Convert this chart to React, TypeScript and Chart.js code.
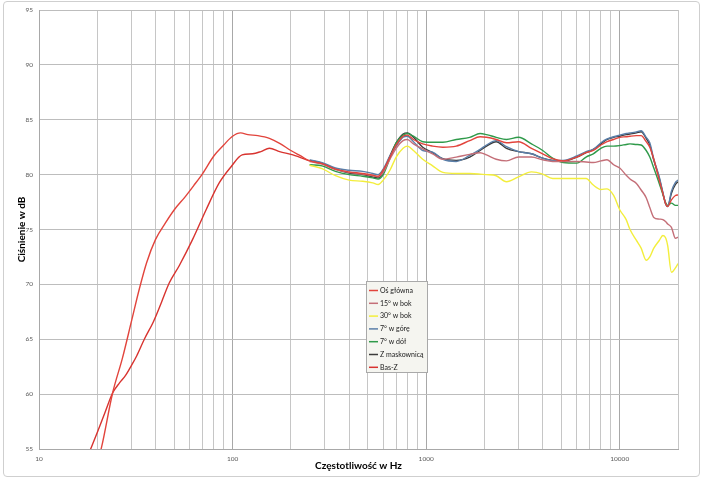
import React, { useEffect, useRef } from 'react';
import { Chart, registerables } from 'chart.js';

Chart.register(...registerables);

const FONT = 'Lato, "Open Sans", "DejaVu Sans", sans-serif';

// Low-frequency part of the main-axis curve (Hz / dB)
const FREQ_OS_LOW = [20, 21, 24, 27, 30, 33, 36, 40, 45, 50, 57, 63, 70, 80, 90, 100, 110, 120, 135, 155, 175, 200, 225];
const OS_GLOWNA_LOW = [53.8, 55.1, 60.1, 63.3, 66.6, 69.6, 72.0, 74.1, 75.6, 76.8, 78.0, 79.0, 80.1, 81.7, 82.7, 83.5, 83.8, 83.65, 83.55, 83.3, 82.85, 82.2, 81.7];

// Bass measurement (Hz / dB)
const FREQ_BAS = [18, 20, 22, 24, 26, 28, 30, 32, 35, 39, 43, 47, 53, 62, 73, 85, 98, 112, 127, 140, 155, 175, 205, 250];
const BAS_Z = [54.5, 56.5, 58.4, 60.1, 61.0, 61.7, 62.6, 63.5, 65.0, 66.6, 68.4, 70.1, 71.7, 74.05, 76.8, 79.2, 80.7, 81.8, 81.9, 82.1, 82.4, 82.1, 81.8, 81.25];

// Common frequency grid for the 250 Hz – 20 kHz measurements
const FREQ_MID = [250, 290, 340, 400, 470, 530, 565, 600, 650, 700, 760, 800, 860, 960, 1080, 1220, 1430, 1680, 1900, 2050, 2300, 2600, 3000, 3500, 4000, 4500, 5100, 6000, 6700, 7300, 8000, 8600, 9300, 10000, 10800, 11300, 12200, 12900, 13700, 14300, 15000, 16000, 16700, 17300, 17700, 18500, 19400, 20000];

const OS_GLOWNA_MID = [81.25, 81.0, 80.5, 80.25, 80.1, 79.95, 79.85, 80.4, 81.6, 82.7, 83.5, 83.6, 83.2, 82.8, 82.6, 82.5, 82.6, 83.1, 83.45, 83.4, 83.2, 82.9, 83.0, 82.4, 81.9, 81.45, 81.25, 81.6, 82.0, 82.2, 82.7, 83.0, 83.2, 83.4, 83.45, 83.5, 83.55, 83.55, 83.0, 82.5, 81.4, 79.5, 78.3, 77.3, 77.1, 77.7, 78.1, 78.15];
const BOK_15 = [81.2, 80.95, 80.45, 80.2, 80.05, 79.9, 79.8, 80.2, 81.4, 82.4, 83.1, 83.2, 82.8, 82.35, 81.9, 81.4, 81.6, 81.85, 82.0, 81.8, 81.4, 81.25, 81.6, 81.6, 81.35, 81.2, 81.2, 81.2, 81.15, 81.1, 81.25, 81.35, 80.9, 80.6, 79.95, 79.6, 79.2, 78.6, 77.9, 77.0, 76.1, 75.95, 75.9, 75.7, 75.5, 75.2, 74.2, 74.3];
const BOK_30 = [80.85, 80.55, 79.9, 79.5, 79.4, 79.25, 79.1, 79.5, 80.4, 81.6, 82.4, 82.6, 82.2, 81.4, 80.8, 80.2, 80.1, 80.1, 80.05, 80.0, 79.9, 79.35, 79.8, 80.25, 80.05, 79.65, 79.65, 79.65, 79.65, 79.05, 78.65, 78.7, 78.1, 76.8, 75.9, 75.0, 74.0, 73.3, 72.2, 72.5, 73.3, 74.0, 74.45, 74.2, 73.5, 71.1, 71.5, 71.9];
const GORA_7 = [81.35, 81.1, 80.6, 80.4, 80.3, 80.1, 80.0, 80.5, 81.7, 82.6, 83.4, 83.5, 83.0, 82.2, 82.05, 81.4, 81.2, 81.75, 82.3, 82.7, 83.1, 82.55, 82.1, 81.9, 81.5, 81.3, 81.3, 81.7, 82.1, 82.3, 82.9, 83.25, 83.45, 83.6, 83.75, 83.8, 83.9, 84.0, 83.4, 82.9, 81.4, 79.8, 78.4, 77.3, 77.1, 78.5, 79.3, 79.5];
const DOL_7 = [80.9, 80.8, 80.3, 80.0, 79.85, 79.7, 79.6, 80.0, 81.5, 82.9, 83.6, 83.75, 83.5, 83.0, 82.95, 82.95, 83.2, 83.4, 83.75, 83.65, 83.4, 83.2, 83.4, 82.8, 82.2, 81.5, 81.1, 81.05, 81.6, 81.9, 82.4, 82.6, 82.6, 82.65, 82.75, 82.8, 82.75, 82.7, 82.2, 81.6, 80.6, 79.2, 78.2, 77.4, 77.2, 77.4, 77.2, 77.2];
const MASKOWNICA = [81.3, 81.05, 80.5, 80.15, 80.0, 79.8, 79.7, 80.2, 81.7, 82.9, 83.7, 83.8, 83.4, 82.5, 82.0, 81.45, 81.3, 81.6, 82.2, 82.6, 83.0, 82.4, 82.1, 81.9, 81.5, 81.3, 81.2, 81.6, 82.0, 82.3, 82.8, 83.2, 83.4, 83.5, 83.65, 83.7, 83.8, 83.9, 83.3, 82.7, 81.3, 79.7, 78.3, 77.3, 77.1, 78.3, 79.1, 79.35];

// Axis ticks
const X_DECADES = [10, 100, 1000, 10000];
const X_MULTIPLIERS = [1, 2, 3, 4, 5, 6, 7, 8, 9];
const X_MAX = 20000;
const X_LABELS = [10, 100, 1000, 10000];
const Y_MIN = 55;
const Y_MAX = 95;
const Y_STEP = 5;

const LABELS = ['Oś główna', '15° w bok', '30° w bok', '7° w górę', '7° w dół', 'Z maskownicą', 'Bas-Z'];
const COLORS = ['#e2443c', '#c46f78', '#f3ee3c', '#5a7ea8', '#2f9a4a', '#3c3c3c', '#d8332f'];

const legendPlugin = {
  id: 'boxLegend',
  afterDraw(chart: any) {
    const { ctx } = chart;
    const x0 = 366, y0 = 281, w = 61, h = 91;
    ctx.save();
    ctx.fillStyle = '#f5f5f0';
    ctx.fillRect(x0, y0, w, h);
    ctx.strokeStyle = '#a9a9a9';
    ctx.lineWidth = 1;
    ctx.strokeRect(x0 + 0.5, y0 + 0.5, w, h);
    ctx.font = `7px ${FONT}`;
    ctx.textBaseline = 'middle';
    ctx.textAlign = 'left';
    chart.data.datasets.forEach((ds: any, i: number) => {
      const y = y0 + 9.5 + i * 12.8;
      ctx.strokeStyle = ds.borderColor;
      ctx.lineWidth = 1.5;
      ctx.beginPath();
      ctx.moveTo(x0 + 3, y);
      ctx.lineTo(x0 + 12, y);
      ctx.stroke();
      ctx.fillStyle = '#1a1a1a';
      ctx.fillText(ds.label, x0 + 14, y);
    });
    ctx.restore();
  },
};

export default function App() {
  const ref = useRef<HTMLCanvasElement>(null);

  useEffect(() => {
    const pts = (f: number[], v: number[]) => f.map((x, i) => ({ x, y: v[i] }));
    const series = [
      pts([...FREQ_OS_LOW, ...FREQ_MID], [...OS_GLOWNA_LOW, ...OS_GLOWNA_MID]),
      pts(FREQ_MID, BOK_15),
      pts(FREQ_MID, BOK_30),
      pts(FREQ_MID, GORA_7),
      pts(FREQ_MID, DOL_7),
      pts(FREQ_MID, MASKOWNICA),
      pts(FREQ_BAS, BAS_Z),
    ];
    const xTicks: number[] = [];
    X_DECADES.forEach((d) => X_MULTIPLIERS.forEach((m) => { if (d * m <= X_MAX) xTicks.push(d * m); }));
    if (!xTicks.includes(X_MAX)) xTicks.push(X_MAX);

    const chart = new Chart(ref.current!, {
      type: 'line',
      data: {
        datasets: series.map((data, i) => ({
          label: LABELS[i],
          data,
          borderColor: COLORS[i],
          backgroundColor: COLORS[i],
          borderWidth: 1.4,
          pointRadius: 0,
          cubicInterpolationMode: 'monotone',
          fill: false,
        })),
      },
      options: {
        responsive: false,
        animation: false,
        layout: { padding: { top: 10, right: 27, left: 0, bottom: 0 } },
        plugins: { legend: { display: false }, tooltip: { enabled: false } },
        scales: {
          x: {
            type: 'logarithmic',
            min: 10,
            max: X_MAX,
            afterBuildTicks: (s: any) => { s.ticks = xTicks.map((value) => ({ value })); },
            afterFit: (s: any) => { s.height = 31; },
            grid: {
              color: (c: any) => (X_DECADES.includes(c.tick?.value) ? '#a8a8a8' : '#c6c6c6'),
              drawTicks: false,
              lineWidth: 1,
            },
            border: { color: '#a8a8a8' },
            ticks: {
              autoSkip: false,
              maxRotation: 0,
              padding: 6,
              color: '#595959',
              font: { family: FONT, size: 6.5 },
              callback: (v: any) => (X_LABELS.includes(Number(v)) ? String(v) : ''),
            },
            title: {
              display: true,
              text: 'Częstotliwość w Hz',
              color: '#000',
              font: { family: FONT, size: 10, weight: 'bold' },
              padding: { top: 0, bottom: 8 },
            },
          },
          y: {
            min: Y_MIN,
            max: Y_MAX,
            afterFit: (s: any) => { s.width = 39; },
            grid: { color: '#bdbdbd', drawTicks: false, lineWidth: 1 },
            border: { color: '#a8a8a8' },
            ticks: {
              stepSize: Y_STEP,
              padding: 6,
              color: '#595959',
              font: { family: FONT, size: 6.5 },
            },
            title: {
              display: true,
              text: 'Ciśnienie w dB',
              color: '#000',
              font: { family: FONT, size: 10, weight: 'bold' },
              padding: { top: 16, bottom: 0 },
            },
          },
        },
      },
      plugins: [legendPlugin],
    } as any);
    return () => chart.destroy();
  }, []);

  return (
    <div style={{ position: 'absolute', left: 0, top: 0, width: 705, height: 480, background: '#fff' }}>
      <div
        style={{
          position: 'absolute', left: 3, top: 1, width: 695, height: 474,
          border: '1px solid #cfcfcf', borderRadius: 4,
        }}
      />
      <canvas
        ref={ref}
        width={705}
        height={480}
        style={{ position: 'absolute', left: 0, top: 0, width: 705, height: 480 }}
      />
    </div>
  );
}
